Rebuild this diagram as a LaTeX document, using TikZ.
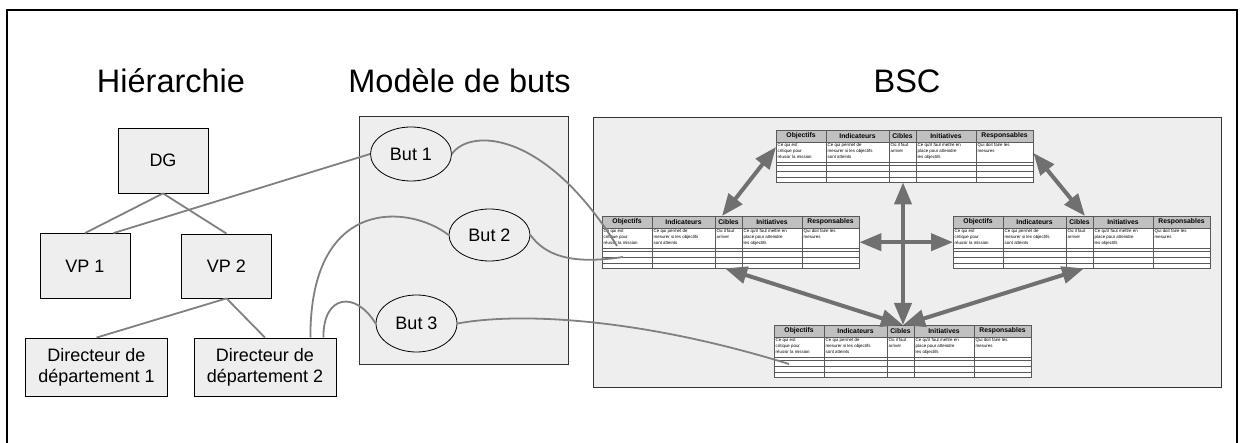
\documentclass[tikz,border=0pt]{standalone}
\usepackage{fontspec}
\setmainfont{Liberation Sans}
\usetikzlibrary{shapes.geometric, arrows.meta, positioning, calc}

\definecolor{boxfill}{HTML}{EEEEEE}
\definecolor{hdrfill}{HTML}{C0C0C0}
\definecolor{linkgray}{HTML}{808080}
\definecolor{arrowgray}{HTML}{707070}

% one BSC table: name, x, y (top left corner)
\newcommand{\bsctable}[3]{%
  \begin{scope}[shift={(#2,#3)}]
    \node[tblnode, anchor=north west] (#1) at (0,0) {};
    \fill[white] (0,0) rectangle (257,52);
    \fill[hdrfill] (0,0) rectangle (257,12);
    \foreach \ry in {12,32,35,41,47}
      \draw[tblline] (0,\ry) -- (257,\ry);
    \foreach \cx in {50,113,140,200}
      \draw[tblline] (\cx,0) -- (\cx,52);
    \draw[tblline] (0,0) rectangle (257,52);
    \foreach \cx/\cw/\hd in {0/50/Objectifs, 50/63/Indicateurs, 113/27/Cibles,
                            140/60/Initiatives, 200/57/Responsables}
      \node[tblhead] at (\cx+\cw/2,6.2) {\hd};
    \node[tblbody] at (1.5,13) {Ce qui est\\critique pour\\réussir la mission};
    \node[tblbody] at (51.5,13) {Ce qui permet de\\mesurer si les objectifs\\sont atteints};
    \node[tblbody] at (114.5,13) {Où il faut\\arriver};
    \node[tblbody] at (141.5,13) {Ce qu'il faut mettre en\\place pour atteindre\\les objectifs};
    \node[tblbody] at (201.5,13) {Qui doit faire les\\mesures};
  \end{scope}}

\begin{document}
\begin{tikzpicture}[x=1pt, y=-1pt,
  title/.style={font=\fontsize{32.5}{39}\selectfont, anchor=base, inner sep=0pt},
  hbox/.style={rectangle, draw, line width=0.8pt, fill=boxfill, align=center,
               font=\fontsize{18}{21}\selectfont, minimum width=90pt, minimum height=65pt},
  dbox/.style={hbox, minimum width=142pt, minimum height=58pt},
  goal/.style={ellipse, draw, line width=0.8pt, fill=boxfill, inner sep=0pt,
               font=\fontsize{18}{21}\selectfont, minimum width=81pt, minimum height=54pt},
  panel/.style={rectangle, draw=black!80, line width=0.8pt, fill=boxfill},
  tblnode/.style={rectangle, inner sep=0pt, minimum width=257pt, minimum height=52pt},
  tblline/.style={draw=black!65, line width=0.5pt},
  tblhead/.style={font=\fontsize{6.8}{8}\selectfont\bfseries, inner sep=0pt},
  tblbody/.style={font=\fontsize{4.4}{6.2}\selectfont, anchor=north west, align=left, inner sep=0pt},
  link/.style={draw=linkgray, line width=1.8pt},
  twoway/.style={draw=arrowgray, line width=4pt,
                 {Triangle[length=22pt,width=17pt]}-{Triangle[length=22pt,width=17pt]}}]
  \useasboundingbox (0,0) rectangle (1241,443);
  \draw[line width=2pt] (7,443) -- (7,10) -- (1237,10) -- (1237,443);

  % titles
  \node[title] (thier) at (171,93) {Hiérarchie};
  \node[title] (tgoal) at (459.5,93) {Modèle de buts};
  \node[title] (tbsc) at (907,93) {BSC};

  % hierarchy
  \node[hbox] (dg) at (163,160.5) {DG};
  \node[hbox] (vp1) at (85,266) {VP 1};
  \node[hbox, minimum height=64pt] (vp2) at (226.5,266) {VP 2};
  \node[dbox] (dir1) at (96.5,367) {Directeur de\\département 1};
  \node[dbox] (dir2) at (265,367) {Directeur de\\département 2};

  % goal model
  \node[panel, minimum width=209pt, minimum height=248pt] (goals) at (463.5,240) {};
  \node[goal] (but1) at (411,154) {But 1};
  \node[goal, minimum height=52pt] (but2) at (489.5,235) {But 2};
  \node[goal, minimum height=57pt] (but3) at (416.5,323.5) {But 3};

  % balanced scorecard
  \node[panel, minimum width=628pt, minimum height=270pt] (bsc) at (907,252) {};
  \bsctable{tt}{776}{130}
  \bsctable{lt}{602}{216}
  \bsctable{rt}{953}{216}
  \bsctable{bt}{774}{325}

  \coordinate (vtop) at ([xshift=127pt]tt.south west);
  \coordinate (vbot) at (vtop |- bt.north);
  \draw[twoway] ([xshift=120pt]lt.north west) -- ([yshift=-17pt]tt.north west);
  \draw[twoway] ([yshift=-23pt]tt.north east) -- ([xshift=132pt]rt.north west);
  \draw[twoway] (vtop) -- (vbot);
  \draw[twoway] (lt.east) -- (rt.west);
  \draw[twoway] ([xshift=123pt]lt.south west) -- (vbot);
  \draw[twoway] ([xshift=131pt]rt.south west) -- (vbot);

  % links
  \draw[link] (dg.south) -- (vp1.north);
  \draw[link] (dg.south) -- (vp2.north);
  \draw[link] (vp2.south) -- (dir1.north);
  \draw[link] (vp2.south) -- (dir2.north);
  \draw[link] ([xshift=-17pt]vp1.north east) -- (but1.west);
  \draw[link] ([xshift=-26pt]dir2.north east) .. controls (310,195) and (410,205) .. (but2.west);
  \draw[link] ([xshift=-13pt]dir2.north east) .. controls (323,295) and (355,290) .. (but3.west);
  \draw[link] (but1.east) .. controls (470,128) and (545,130) .. ([shift={(15pt,-30pt)}]lt.north west);
  \draw[link] (but2.east) .. controls (545,255) and (570,265) .. ([shift={(21pt,-41pt)}]lt.north west);
  \draw[link] (but3.east) .. controls (520,312) and (640,318) .. ([shift={(15pt,-39pt)}]bt.north west);
\end{tikzpicture}
\end{document}
